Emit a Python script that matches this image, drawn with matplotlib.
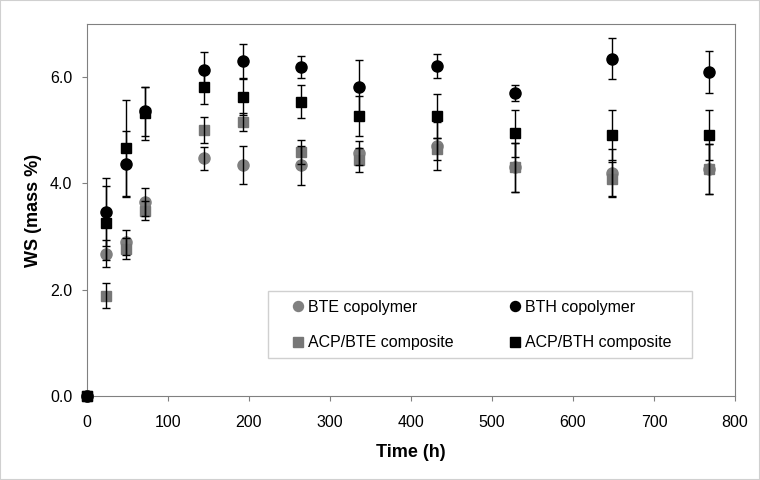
import matplotlib
matplotlib.use("Agg")
import matplotlib.pyplot as plt
from matplotlib.patches import Rectangle

plt.rcParams['font.family'] = ['Liberation Sans', 'DejaVu Sans']

time_h = [0, 24, 48, 72, 144, 192, 264, 336, 432, 528, 648, 768]
bte = [0, 2.68, 2.89, 3.65, 4.47, 4.34, 4.34, 4.57, 4.70, 4.30, 4.20, 4.28]
bte_err = [0, 0.25, 0.23, 0.26, 0.21, 0.36, 0.37, 0.22, 0.45, 0.46, 0.44, 0.47]
bth = [0, 3.47, 4.36, 5.36, 6.14, 6.31, 6.19, 5.81, 6.21, 5.70, 6.35, 6.10]
bth_err = [0, 0.64, 0.62, 0.46, 0.33, 0.32, 0.21, 0.52, 0.22, 0.15, 0.38, 0.40]
acp_bte = [0, 1.89, 2.77, 3.49, 5.01, 5.16, 4.59, 4.44, 4.65, 4.30, 4.08, 4.28]
acp_bte_err = [0, 0.23, 0.20, 0.17, 0.24, 0.17, 0.23, 0.22, 0.20, 0.46, 0.33, 0.47]
acp_bth = [0, 3.25, 4.67, 5.32, 5.82, 5.62, 5.54, 5.27, 5.27, 4.94, 4.91, 4.91]
acp_bth_err = [0, 0.70, 0.90, 0.50, 0.33, 0.34, 0.31, 0.38, 0.42, 0.44, 0.47, 0.47]

labels = ["BTE copolymer", "ACP/BTE composite", "BTH copolymer", "ACP/BTH composite"]
series = [(bte, bte_err, 'o', '#808080'),
          (acp_bte, acp_bte_err, 's', '#777777'),
          (bth, bth_err, 'o', '#000000'),
          (acp_bth, acp_bth_err, 's', '#000000')]

fig = plt.figure(figsize=(7.6, 4.8), dpi=100)
fig.patches.append(Rectangle((0, 0), 1, 1, transform=fig.transFigure, fill=False,
                             edgecolor='#d0d0d0', linewidth=1.5))
ax = fig.add_axes([87/760, (480-396)/480, (735-87)/760, (396-24)/480])

handles = []
for (vals, err, mk, col), lab in zip(series, labels):
    h, = ax.plot(time_h, vals, linestyle='none', marker=mk, color=col,
                 markersize=8 if mk == 'o' else 7.5, clip_on=False, zorder=3, label=lab)
    handles.append(h)
for (vals, err, mk, col) in series:
    ax.errorbar(time_h, vals, yerr=err, fmt='none', ecolor='black', elinewidth=1,
                capsize=3, capthick=1, zorder=4)

ax.set_xlim(0, 800)
ax.set_ylim(0, 7.0)
ax.set_xticks(range(0, 801, 100))
ax.set_yticks([0, 2, 4, 6])
ax.set_yticklabels(['0.0', '2.0', '4.0', '6.0'])
for s in ax.spines.values():
    s.set_color('#808080')
ax.tick_params(axis='both', colors='#808080', labelcolor='black', labelsize=11.5,
               length=3.5, direction='out')
ax.tick_params(axis='x', pad=10)
ax.tick_params(axis='y', pad=7)
ax.set_xlabel('Time (h)', fontsize=13, fontweight='bold', labelpad=10)
ax.set_ylabel('WS (mass %)', fontsize=13, fontweight='bold', labelpad=6)

# legend frame (wider horizontal padding than vertical, as in the original)
ax.add_patch(Rectangle((0.2793, 0.102), 0.654, 0.180, transform=ax.transAxes,
                       facecolor='white', edgecolor='#d0d0d0', linewidth=1,
                       zorder=5, clip_on=False))
leg = ax.legend(handles=handles, ncol=2, loc='center left',
                bbox_to_anchor=(0.3171, 0.1909, 0.5856, 0), mode='expand',
                frameon=False, fontsize=11.5, handlelength=0.7,
                handletextpad=0.28, borderpad=0, labelspacing=1.27,
                markerscale=0.9, borderaxespad=0)
leg.set_zorder(6)

fig.savefig('out.png', dpi=100)
